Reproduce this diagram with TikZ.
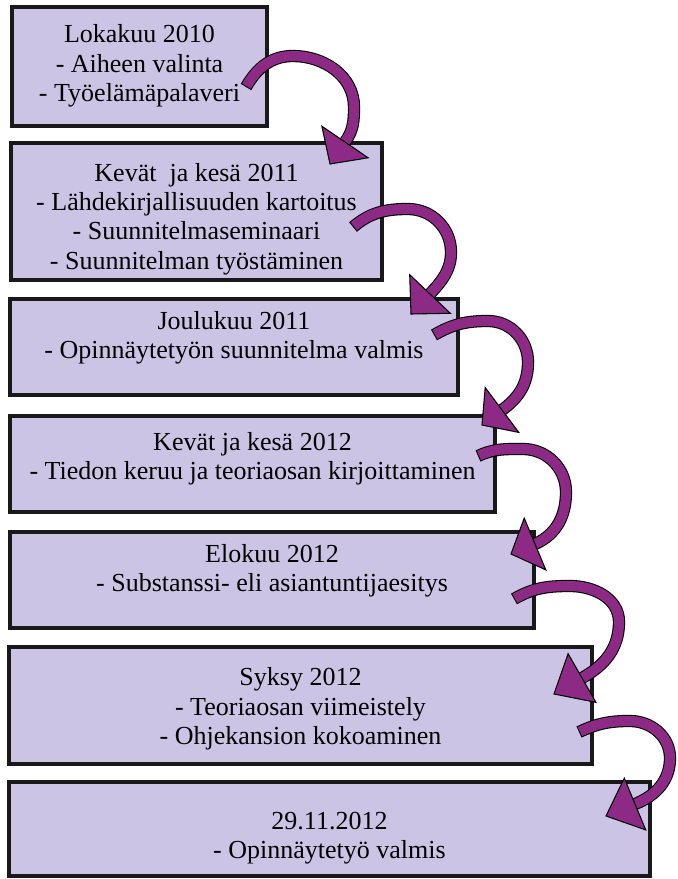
\documentclass[tikz,border=0pt]{standalone}
\usepackage{fontspec}
\setmainfont{Liberation Serif}
\usetikzlibrary{calc,fit}
\definecolor{boxfill}{RGB}{204,196,229}
\definecolor{arrowpurple}{RGB}{140,42,134}
\definecolor{boxline}{RGB}{25,25,25}
\tikzset{
  box/.style={draw=boxline, line width=2.6pt, fill=boxfill, inner sep=0pt, rectangle},
  lbl/.style={align=center, font=\fontsize{19.5}{22}\selectfont, inner sep=0pt},
  shaftout/.style={draw=black, line width=9.2pt},
  shaftin/.style={draw=arrowpurple, line width=7.6pt, shorten <=0.8pt},
  headstyle/.style={fill=arrowpurple, draw=black, line width=0.8pt, line join=miter},
}
% #1 tail, #2 top, #3 right, #4 head base, #5 tip, #6 out angle, #7 in angle
\newcommand\curvedarrowto[7]{%
  \draw[shaftout] (#1) to[out=#6,in=180] (#2) to[out=0,in=90] (#3) to[out=-90,in=#7] (#4);
  \draw[shaftin] (#1) to[out=#6,in=180] (#2) to[out=0,in=90] (#3) to[out=-90,in=#7] (#4);
  \filldraw[headstyle] ($(#4)!21pt!90:(#5)$) -- (#5) -- ($(#4)!21pt!-90:(#5)$) -- cycle;
}
\begin{document}
\begin{tikzpicture}[x=0.75pt,y=0.75pt]
\useasboundingbox (0,0) rectangle (678,-879);

% boxes
\node[box, fit={(12,-7) (267,-126)}] (b1) {};
\node[box, fit={(11,-143) (382,-280)}] (b2) {};
\node[box, fit={(10,-299) (458,-395)}] (b3) {};
\node[box, fit={(10,-416) (495,-512)}] (b4) {};
\node[box, fit={(10,-532) (534,-628)}] (b5) {};
\node[box, fit={(9,-647) (592,-764)}] (b6) {};
\node[box, fit={(9,-782) (650,-876)}] (b7) {};

% labels
\node[lbl] (l1) at (139.5,-66) {Lokakuu 2010\\- Aiheen valinta\\- Työelämäpalaveri};
\node[lbl] (l2) at (196.5,-219) {Kevät\ \ ja kesä 2011\\- Lähdekirjallisuuden kartoitus\\- Suunnitelmaseminaari\\- Suunnitelman työstäminen};
\node[lbl] (l3) at (234,-338) {Joulukuu 2011\\- Opinnäytetyön suunnitelma valmis};
\node[lbl] (l4) at (252.5,-459) {Kevät ja kesä 2012\\- Tiedon keruu ja teoriaosan kirjoittaminen};
\node[lbl] (l5) at (272,-571) {Elokuu 2012\\- Substanssi- eli asiantuntijaesitys};
\node[lbl] (l6) at (300.5,-709) {Syksy 2012\\- Teoriaosan viimeistely\\- Ohjekansion kokoaminen};
\node[lbl] (l7) at (329.5,-838) {29.11.2012\\- Opinnäytetyö valmis};

% arrow coordinates
\coordinate (t1) at (246,-87);  \coordinate (m1) at (293,-56);  \coordinate (r1) at (354,-107);
\coordinate (e1) at (345,-142); \coordinate (p1) at (330,-164);
\coordinate (t2) at (353,-227); \coordinate (m2) at (408,-209); \coordinate (r2) at (451,-252);
\coordinate (e2) at (430,-294); \coordinate (p2) at (411,-314);
\coordinate (t3) at (434,-335); \coordinate (m3) at (488,-321); \coordinate (r3) at (528,-362);
\coordinate (e3) at (502,-410); \coordinate (p3) at (482,-425);
\coordinate (t4) at (478,-456); \coordinate (m4) at (523,-449); \coordinate (r4) at (566,-492);
\coordinate (e4) at (535,-544); \coordinate (p4) at (511,-554);
\coordinate (t5) at (514,-599); \coordinate (m5) at (570,-586); \coordinate (r5) at (619,-622);
\coordinate (e5) at (582,-678); \coordinate (p5) at (554,-694);
\coordinate (t6) at (579,-732); \coordinate (m6) at (630,-721); \coordinate (r6) at (670,-758);
\coordinate (e6) at (635,-804); \coordinate (p6) at (606,-816);

\curvedarrowto{t1}{m1}{r1}{e1}{p1}{60}{54}
\curvedarrowto{t2}{m2}{r2}{e2}{p2}{40}{48}
\curvedarrowto{t3}{m3}{r3}{e3}{p3}{30}{36}
\curvedarrowto{t4}{m4}{r4}{e4}{p4}{25}{24}
\curvedarrowto{t5}{m5}{r5}{e5}{p5}{30}{29}
\curvedarrowto{t6}{m6}{r6}{e6}{p6}{25}{22}
\end{tikzpicture}
\end{document}
